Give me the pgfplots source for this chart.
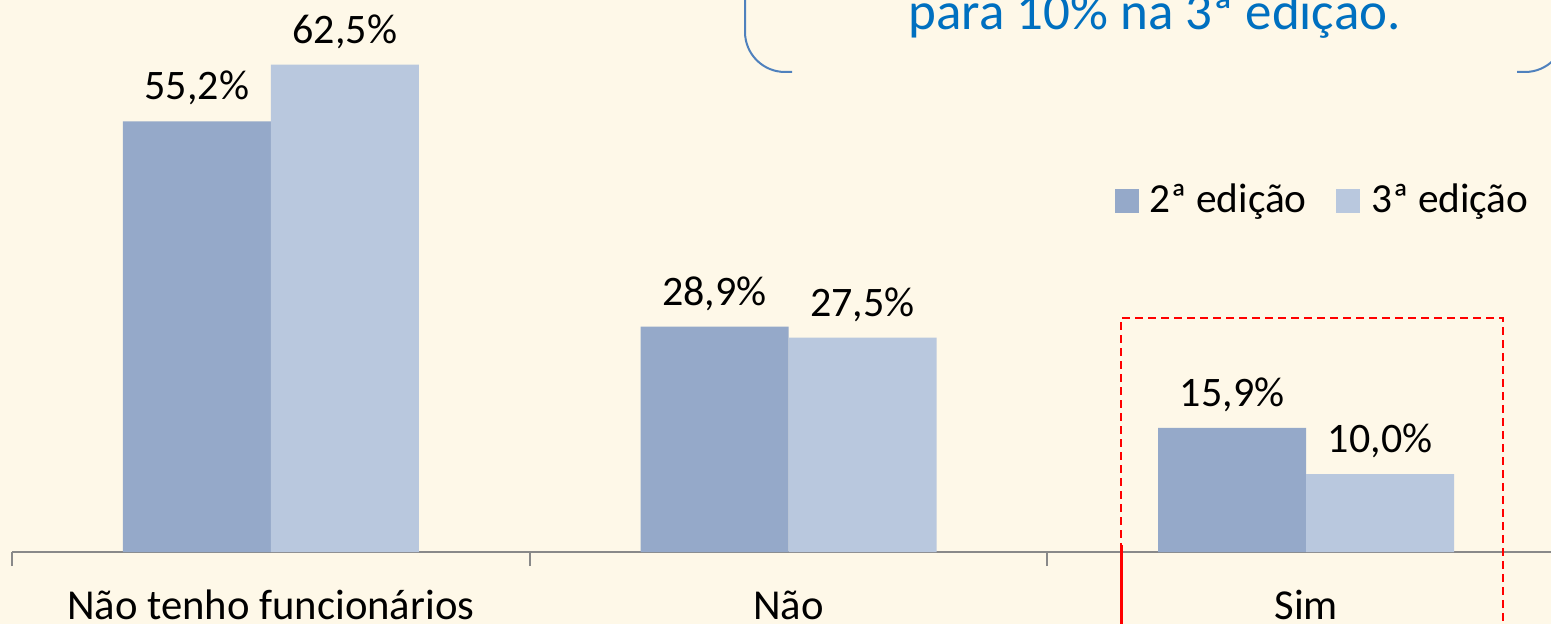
\documentclass[border=0pt]{standalone}
\usepackage{pgfplots}
\pgfplotsset{compat=1.18}
\usepackage{fontspec}
\setmainfont{Carlito}
\definecolor{bg}{RGB}{254,248,232}
\definecolor{barA}{RGB}{149,169,201}
\definecolor{barB}{RGB}{185,200,222}
\definecolor{callblue}{RGB}{0,112,192}
\definecolor{boxblue}{RGB}{79,129,189}
\definecolor{axgray}{RGB}{137,137,137}
\newcommand{\lblfont}{\fontsize{12.6}{14}\selectfont}
\newcommand{\legfont}{\fontsize{12.4}{14}\selectfont}
\newcommand{\tickfont}{\fontsize{12.8}{14}\selectfont}
\begin{document}
\begin{tikzpicture}
\useasboundingbox (-3.6pt,-21.6pt) rectangle (461.7pt,165.6pt);
\clip (-3.6pt,-21.6pt) rectangle (461.7pt,165.6pt);
\fill[bg] (-3.6pt,-21.6pt) rectangle (461.7pt,165.6pt);
\begin{axis}[
  at={(0pt,0pt)}, anchor=south west,
  scale only axis, width=465.9pt, height=165.6pt,
  xmin=-0.5, xmax=2.5, ymin=0, ymax=70.77,
  ybar=0pt, bar width=44.4pt,
  axis y line=none, axis x line*=bottom,
  axis line style={axgray, line width=0.6pt},
  xtick={0,1,2}, xticklabels={Não tenho funcionários, Não, Sim},
  major tick length=0pt,
  minor xtick={-0.5,0.5,1.5,2.5}, minor tick length=4.2pt, tick align=outside,
  tick style={axgray, line width=0.6pt},
  xticklabel style={font=\tickfont, anchor=base, yshift=-20.2pt, text=black},
  nodes near coords, point meta=explicit symbolic,
  every node near coord/.append style={font=\lblfont, anchor=base, yshift=6.45pt, text=black},
  clip=false,
  legend style={draw=none, fill=none, at={(0.7096,0.636)}, anchor=west,
    legend columns=2, font=\legfont, inner sep=0pt,
    /tikz/every even column/.append style={column sep=6.9pt}},
  legend image code/.code={\fill[#1] (0pt,-3.6pt) rectangle (7.2pt,3.6pt); \path (8.4pt,0pt);},
]
\addplot[fill=barA, draw=none] coordinates {(0,55.2) [55,2\%] (1,28.9) [28,9\%] (2,15.9) [15,9\%]};
\addplot[fill=barB, draw=none] coordinates {(0,62.5) [62,5\%] (1,27.5) [27,5\%] (2,10.0) [10,0\%]};
\legend{2ª edição, 3ª edição}
\end{axis}
\begin{scope}[x=0.3pt,y=0.3pt]
  \draw[boxblue, line width=0.6pt, rounded corners=12pt] (733,600) -- (733,480) -- (780,480);
  \draw[boxblue, line width=0.6pt, rounded corners=12pt] (1505,480) -- (1553,480) -- (1553,600);
  \node[anchor=base west, inner sep=0pt, text=callblue, font=\fontsize{15.9}{18}\selectfont] at (896,522) {para 10\% na 3ª edição.};
  \draw[red, line width=0.6pt, dash pattern=on 2.4pt off 1.5pt] (1109,-90) -- (1109,234) -- (1491,234) -- (1491,-90);
  \draw[red, line width=0.9pt] (1109,7) -- (1109,-90);
\end{scope}
\end{tikzpicture}
\end{document}
